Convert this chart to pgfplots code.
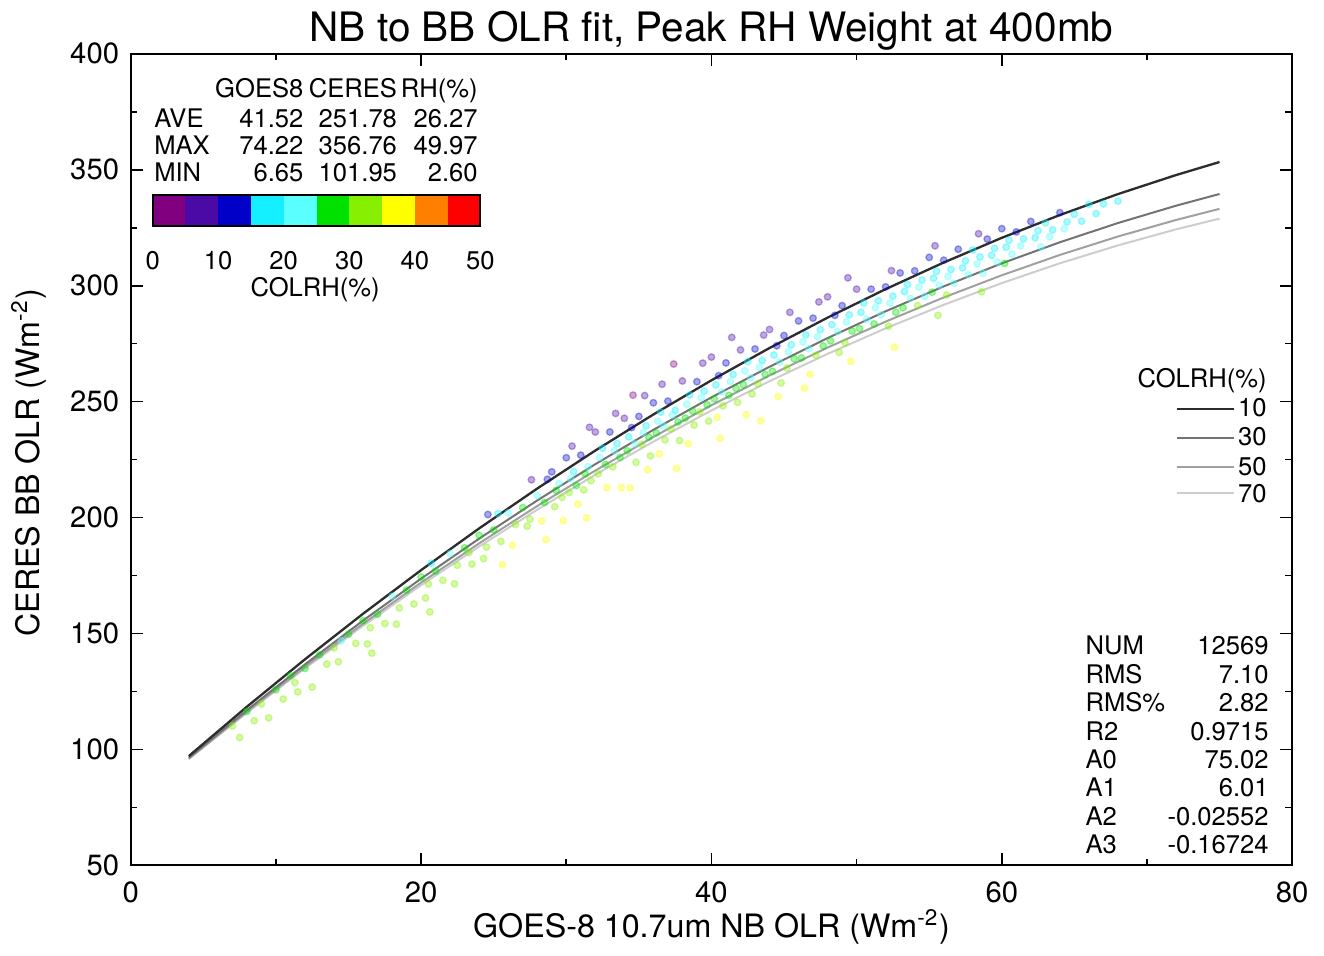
\documentclass[border=0pt]{standalone}
\usepackage{fontspec}
\setmainfont{TeX Gyre Heros}
\usepackage{pgfplots}
\pgfplotsset{compat=1.18}
\definecolor{c10}{RGB}{45,45,45}
\definecolor{c30}{RGB}{115,115,115}
\definecolor{c50}{RGB}{160,160,160}
\definecolor{c70}{RGB}{205,205,205}
\definecolor{cb1}{RGB}{128,0,128}
\definecolor{cb2}{RGB}{75,10,165}
\definecolor{cb3}{RGB}{0,0,200}
\definecolor{cb4}{RGB}{20,240,255}
\definecolor{cb5}{RGB}{90,255,255}
\definecolor{cb6}{RGB}{0,225,0}
\definecolor{cb7}{RGB}{135,240,0}
\definecolor{cb8}{RGB}{255,255,0}
\definecolor{cb9}{RGB}{255,128,0}
\definecolor{cb10}{RGB}{255,0,0}
\newcommand{\fsin}{\fontsize{7.7}{9}\selectfont}
\tikzset{t/.style={inner sep=0pt, font=\fsin}}
\begin{document}
\begin{tikzpicture}
\begin{axis}[
  scale only axis, width=349.5pt, height=244.2pt,
  xmin=0, xmax=80, ymin=50, ymax=400,
  xtick={0,20,40,60,80}, ytick={50,100,...,400},
  minor x tick num=1, minor y tick num=1,
  tick align=inside, tick pos=both,
  major tick length=3.6pt, minor tick length=2pt,
  axis line style={line width=0.6pt},
  every tick/.style={black, line width=0.5pt},
  tick label style={font=\fontsize{8.8}{10}\selectfont},
  xticklabel style={yshift=-1.3pt},
  /pgf/number format/assume math mode=true,
  clip=false,
  colormap={rhmap}{rgb255=(128,0,128) rgb255=(75,10,165) rgb255=(0,0,200) rgb255=(20,240,255) rgb255=(90,255,255) rgb255=(0,225,0) rgb255=(135,240,0) rgb255=(255,255,0) rgb255=(255,128,0) rgb255=(255,0,0)},
  colormap access=piecewise constant,
  point meta min=0, point meta max=50,
]
% scatter cloud (COLRH as meta)
\addplot[scatter, only marks, mark=*, mark size=1.0pt, point meta=explicit,
  scatter/use mapped color={draw=mapped color, fill=mapped color},
  mark options={opacity=0.35}]
coordinates {
(7,110.1)[30] (7.5,105.1)[33] (8,116.4)[28] (8.5,112.4)[32] (9,119.6)[30] (9.5,113.6)[33]
(10,125.7)[27] (10.5,121.7)[33] (11,131.8)[26] (11.5,124.8)[34] (11.3,128.8)[30]
(12,134.9)[29] (12.5,126.9)[34] (13,140.8)[27] (13.5,136.8)[32]
(14,143.8)[30] (14.5,146.8)[24] (14.3,137.8)[33] (15,149.7)[28] (15.5,145.7)[33]
(16,155.5)[26] (16.5,152.5)[31] (16.3,145.5)[34] (17,158.3)[29] (17.5,154.3)[34]
(18,166.0)[24] (18.5,161.0)[31] (18.3,154.0)[34] (19,168.7)[27] (19.5,162.7)[33]
(20,174.3)[25] (20.5,171.3)[30] (20.3,165.3)[33] (20.7,180.3)[15] (21,176.9)[29] (21.5,172.9)[33]
(22,184.4)[23] (22.5,179.4)[31] (22.3,171.4)[34] (23,186.9)[27] (23.5,179.9)[33] (23.3,184.9)[30]
(24,192.3)[25] (24.5,187.3)[32] (24.3,182.3)[34] (25,194.7)[28] (25.5,189.7)[34] (25.3,201.7)[15]
(26,202.0)[22] (26.5,197.0)[30] (26.3,188.0)[36] (27,204.3)[26] (27.5,199.3)[33] (27.3,196.3)[34]
(28,209.5)[24] (28.5,206.5)[29] (28.3,198.5)[35] (28.7,216.5)[12]
(29,219.7)[12] (29.5,214.7)[20] (29.3,211.7)[25] (29.7,208.7)[30] (29.2,204.7)[33] (29.8,198.7)[36]
(30,225.8)[10] (30.5,219.8)[18] (30.3,216.8)[24] (30.7,213.8)[28] (30.2,210.8)[32] (30.8,205.8)[35]
(31,226.9)[14] (31.5,221.9)[21] (31.3,218.9)[26] (31.7,215.9)[31] (31.2,211.9)[34]
(32,236.9)[8] (32.5,229.9)[16] (32.3,225.9)[21] (32.7,222.9)[27] (32.2,218.9)[32] (32.8,212.9)[36]
(33,236.9)[11] (33.5,231.9)[18] (33.3,228.9)[23] (33.7,225.9)[28] (33.2,221.9)[33] (33.8,212.9)[38]
(34,242.8)[9] (34.5,238.8)[14] (34.3,234.8)[19] (34.7,231.8)[24] (34.2,228.8)[29] (34.8,223.8)[34]
(35,243.6)[12] (35.5,239.6)[17] (35.3,236.6)[22] (35.7,234.6)[26] (35.2,231.6)[30] (35.8,226.6)[34] (35.4,252.6)[6]
(36,249.5)[10] (36.5,245.5)[15] (36.3,241.5)[20] (36.7,239.5)[24] (36.2,236.5)[28] (36.8,233.5)[32] (36.4,227.5)[36]
(37,250.2)[13] (37.5,246.2)[18] (37.3,244.2)[22] (37.7,241.2)[27] (37.2,238.2)[31] (37.8,233.2)[34]
(38,258.9)[8] (38.5,252.9)[15] (38.3,248.9)[20] (38.7,245.9)[25] (38.2,242.9)[29] (38.8,239.9)[33] (38.4,231.9)[37]
(39,258.6)[12] (39.5,254.6)[17] (39.3,251.6)[22] (39.7,248.6)[26] (39.2,245.6)[30] (39.8,241.6)[34]
(40,269.2)[7] (40.5,261.2)[14] (40.3,257.2)[19] (40.7,254.2)[23] (40.2,251.2)[27] (40.8,248.2)[31] (40.4,243.2)[35]
(41,266.7)[11] (41.5,261.7)[16] (41.3,258.7)[21] (41.7,255.7)[25] (41.2,252.7)[29] (41.8,249.7)[33]
(42,272.3)[9] (42.5,267.3)[15] (42.3,263.3)[20] (42.7,260.3)[24] (42.2,257.3)[28] (42.8,253.3)[33] (42.4,244.3)[38]
(43,272.7)[12] (43.5,267.7)[18] (43.3,264.7)[22] (43.7,261.7)[26] (43.2,257.7)[31]
(44,281.1)[8] (44.5,274.1)[14] (44.3,270.1)[19] (44.7,267.1)[23] (44.2,263.1)[28] (44.8,258.1)[34]
(45,278.5)[13] (45.5,274.5)[17] (45.3,271.5)[21] (45.7,268.5)[25] (45.2,264.5)[30]
(46,284.8)[10] (46.5,278.8)[16] (46.3,275.8)[20] (46.7,272.8)[24] (46.2,268.8)[29] (46.8,261.8)[35]
(47,286.0)[12] (47.5,281.0)[17] (47.3,278.0)[21] (47.7,274.0)[26] (47.2,270.0)[31]
(48,295.2)[7] (48.5,287.2)[14] (48.3,283.2)[18] (48.7,280.2)[22] (48.2,276.2)[27] (48.8,271.2)[33]
(49,291.4)[13] (49.5,287.4)[17] (49.3,284.4)[21] (49.7,280.4)[25] (49.2,275.4)[31]
(50,298.5)[9] (50.5,292.5)[15] (50.3,288.5)[19] (50.7,285.5)[22] (50.2,281.5)[27]
(51,298.5)[12] (51.5,293.5)[17] (51.3,290.5)[20] (51.7,287.5)[24] (51.2,283.5)[29]
(52,299.5)[14] (52.5,295.5)[18] (52.3,292.5)[21] (52.7,288.5)[26] (52.2,282.5)[33]
(53,305.5)[11] (53.5,300.5)[16] (53.3,297.5)[19] (53.7,294.5)[22] (53.2,290.5)[27]
(54,306.4)[13] (54.5,302.4)[17] (54.3,299.4)[20] (54.7,295.4)[24] (54.2,291.4)[30]
(55,312.2)[10] (55.5,306.2)[15] (55.3,303.2)[18] (55.7,300.2)[21] (55.2,297.2)[25]
(56,311.0)[14] (56.5,307.0)[17] (56.3,304.0)[20] (56.7,301.0)[24] (56.2,296.0)[30]
(57,315.7)[12] (57.5,310.7)[16] (57.3,307.7)[19] (57.7,304.7)[22]
(58,315.4)[15] (58.5,312.4)[17] (58.3,309.4)[20] (58.7,305.4)[24]
(59,320.1)[13] (59.5,316.1)[16] (59.3,313.1)[19] (59.7,310.1)[22]
(60,324.6)[11] (60.5,319.6)[15] (60.3,316.6)[18] (60.7,313.6)[21] (60.2,309.6)[25]
(61,323.2)[14] (61.5,320.2)[17] (61.3,317.2)[20]
(62,327.7)[13] (62.5,323.7)[16] (62.3,320.7)[19] (62.7,316.7)[23]
(63,327.1)[15] (63.5,324.1)[18] (63.3,321.1)[21]
(64,331.5)[14] (64.5,327.5)[17] (64.3,324.5)[20]
(65,330.8)[16] (65.5,327.8)[19] (66,335.1)[15] (66.5,331.1)[18] (67,335.3)[16] (68,336.5)[17]
(30.4,230.8)[6] (31.6,238.9)[5] (33.4,244.9)[7] (34.6,252.8)[4] (36.6,257.5)[6] (37.4,266.2)[3]
(39.4,266.6)[7] (41.4,277.7)[5] (43.6,278.7)[8] (45.4,288.5)[6] (47.4,293.0)[7] (49.4,303.4)[5]
(52.4,306.5)[8] (55.4,317.2)[7] (58.4,322.4)[9] (27.6,216.3)[9] (24.6,201.3)[10]
(25.6,179.7)[36] (28.6,190.5)[37] (31.4,199.9)[38] (34.4,212.8)[36] (37.6,221.2)[38] (40.6,234.2)[37]
(43.4,241.7)[39] (46.4,255.8)[36] (49.6,267.4)[35] (52.6,273.5)[37] (55.6,287.2)[34] (58.6,297.4)[33]
(35.6,220.6)[36] (44.6,252.1)[35] (20.6,159.3)[33] (16.6,141.5)[33]
};
% fitted curves
\addplot[c70, line width=0.6pt] coordinates {(4,95.81) (8,115.78) (12,134.94) (16,153.28) (20,170.80) (24,187.51) (28,203.40) (32,218.47) (36,232.73) (40,246.17) (44,258.79) (48,270.60) (52,281.59) (56,291.76) (60,301.12) (64,309.66) (68,317.38) (72,324.29) (75,328.93)};
\addplot[c50, line width=0.6pt] coordinates {(4,96.04) (8,116.23) (12,135.61) (16,154.18) (20,171.93) (24,188.86) (28,204.97) (32,220.27) (36,234.75) (40,248.42) (44,261.27) (48,273.30) (52,284.51) (56,294.91) (60,304.49) (64,313.26) (68,321.21) (72,328.34) (75,333.15)};
\addplot[c30, line width=0.6pt] coordinates {(4,96.38) (8,116.92) (12,136.64) (16,155.55) (20,173.64) (24,190.91) (28,207.37) (32,223.01) (36,237.83) (40,251.84) (44,265.03) (48,277.40) (52,288.96) (56,299.70) (60,309.62) (64,318.73) (68,327.02) (72,334.49) (75,339.56)};
\addplot[c10, line width=0.7pt] coordinates {(4,97.11) (8,118.39) (12,138.85) (16,158.49) (20,177.31) (24,195.32) (28,212.51) (32,228.89) (36,244.45) (40,259.19) (44,273.11) (48,286.22) (52,298.51) (56,309.99) (60,320.64) (64,330.48) (68,339.51) (72,347.71) (75,353.34)};

% title and axis labels
\node[anchor=base, font=\fontsize{12.2}{14}\selectfont] at (axis description cs:0.5,1.0154) {NB to BB OLR fit, Peak RH Weight at 400mb};
\node[anchor=base, font=\fontsize{9.7}{11}\selectfont] at (axis description cs:0.5,-0.0885) {GOES-8 10.7um NB OLR (Wm\textsuperscript{-2})};
\node[anchor=base, rotate=90, font=\fontsize{9.7}{11}\selectfont] at (axis description cs:-0.0789,0.496) {CERES BB OLR (Wm\textsuperscript{-2})};

% statistics table (top left)
\node[t, anchor=base east] at (axis description cs:0.1492,0.946) {GOES8};
\node[t, anchor=base east] at (axis description cs:0.2298,0.946) {CERES};
\node[t, anchor=base east] at (axis description cs:0.2993,0.946) {RH(\%)};
\node[t, anchor=base west] at (axis description cs:0.0197,0.909) {AVE};
\node[t, anchor=base east] at (axis description cs:0.1492,0.909) {41.52};
\node[t, anchor=base east] at (axis description cs:0.2298,0.909) {251.78};
\node[t, anchor=base east] at (axis description cs:0.2993,0.909) {26.27};
\node[t, anchor=base west] at (axis description cs:0.0197,0.876) {MAX};
\node[t, anchor=base east] at (axis description cs:0.1492,0.876) {74.22};
\node[t, anchor=base east] at (axis description cs:0.2298,0.876) {356.76};
\node[t, anchor=base east] at (axis description cs:0.2993,0.876) {49.97};
\node[t, anchor=base west] at (axis description cs:0.0197,0.843) {MIN};
\node[t, anchor=base east] at (axis description cs:0.1492,0.843) {6.65};
\node[t, anchor=base east] at (axis description cs:0.2298,0.843) {101.95};
\node[t, anchor=base east] at (axis description cs:0.2993,0.843) {2.60};

% colour bar
\fill[cb1] (axis description cs:0.0189,0.7875) rectangle (axis description cs:0.0471,0.8256);
\fill[cb2] (axis description cs:0.0471,0.7875) rectangle (axis description cs:0.0753,0.8256);
\fill[cb3] (axis description cs:0.0753,0.7875) rectangle (axis description cs:0.1035,0.8256);
\fill[cb4] (axis description cs:0.1035,0.7875) rectangle (axis description cs:0.1317,0.8256);
\fill[cb5] (axis description cs:0.1317,0.7875) rectangle (axis description cs:0.1600,0.8256);
\fill[cb6] (axis description cs:0.1600,0.7875) rectangle (axis description cs:0.1882,0.8256);
\fill[cb7] (axis description cs:0.1882,0.7875) rectangle (axis description cs:0.2164,0.8256);
\fill[cb8] (axis description cs:0.2164,0.7875) rectangle (axis description cs:0.2446,0.8256);
\fill[cb9] (axis description cs:0.2446,0.7875) rectangle (axis description cs:0.2728,0.8256);
\fill[cb10] (axis description cs:0.2728,0.7875) rectangle (axis description cs:0.3010,0.8256);
\draw[black, line width=0.6pt] (axis description cs:0.0189,0.7875) rectangle (axis description cs:0.3010,0.8256);
\node[t, anchor=base] at (axis description cs:0.0189,0.7346) {0};
\node[t, anchor=base] at (axis description cs:0.0753,0.7346) {10};
\node[t, anchor=base] at (axis description cs:0.1317,0.7346) {20};
\node[t, anchor=base] at (axis description cs:0.1882,0.7346) {30};
\node[t, anchor=base] at (axis description cs:0.2446,0.7346) {40};
\node[t, anchor=base] at (axis description cs:0.3010,0.7346) {50};
\node[t, anchor=base] at (axis description cs:0.1587,0.7015) {COLRH(\%)};

% curve key (right)
\node[t, anchor=base east] at (axis description cs:0.9786,0.5885) {COLRH(\%)};
\draw[c10, line width=0.7pt] (axis description cs:0.9005,0.5627) -- (axis description cs:0.9503,0.5627);
\draw[c30, line width=0.6pt] (axis description cs:0.9005,0.5270) -- (axis description cs:0.9503,0.5270);
\draw[c50, line width=0.6pt] (axis description cs:0.9005,0.4914) -- (axis description cs:0.9503,0.4914);
\draw[c70, line width=0.6pt] (axis description cs:0.9005,0.4582) -- (axis description cs:0.9503,0.4582);
\node[t, anchor=base east] at (axis description cs:0.9786,0.5528) {10};
\node[t, anchor=base east] at (axis description cs:0.9786,0.5172) {30};
\node[t, anchor=base east] at (axis description cs:0.9786,0.4803) {50};
\node[t, anchor=base east] at (axis description cs:0.9786,0.4472) {70};

% fit statistics (bottom right)
\node[t, anchor=base west] at (axis description cs:0.8216,0.2596) {NUM};
\node[t, anchor=base east] at (axis description cs:0.9803,0.2596) {12569};
\node[t, anchor=base west] at (axis description cs:0.8216,0.2245) {RMS};
\node[t, anchor=base east] at (axis description cs:0.9803,0.2245) {7.10};
\node[t, anchor=base west] at (axis description cs:0.8216,0.1895) {RMS\%};
\node[t, anchor=base east] at (axis description cs:0.9803,0.1895) {2.82};
\node[t, anchor=base west] at (axis description cs:0.8216,0.1543) {R2};
\node[t, anchor=base east] at (axis description cs:0.9803,0.1543) {0.9715};
\node[t, anchor=base west] at (axis description cs:0.8216,0.1193) {A0};
\node[t, anchor=base east] at (axis description cs:0.9803,0.1193) {75.02};
\node[t, anchor=base west] at (axis description cs:0.8216,0.0842) {A1};
\node[t, anchor=base east] at (axis description cs:0.9803,0.0842) {6.01};
\node[t, anchor=base west] at (axis description cs:0.8216,0.0491) {A2};
\node[t, anchor=base east] at (axis description cs:0.9803,0.0491) {-0.02552};
\node[t, anchor=base west] at (axis description cs:0.8216,0.0140) {A3};
\node[t, anchor=base east] at (axis description cs:0.9803,0.0140) {-0.16724};

\coordinate (SW) at (rel axis cs:0,0);
\coordinate (NE) at (rel axis cs:1,1);
\end{axis}
\path (SW) ++(-38.1pt,-26.4pt) coordinate (BB1);
\path (NE) ++(9.6pt,16.2pt) coordinate (BB2);
\path (BB1) rectangle (BB2);
\end{tikzpicture}
\end{document}
